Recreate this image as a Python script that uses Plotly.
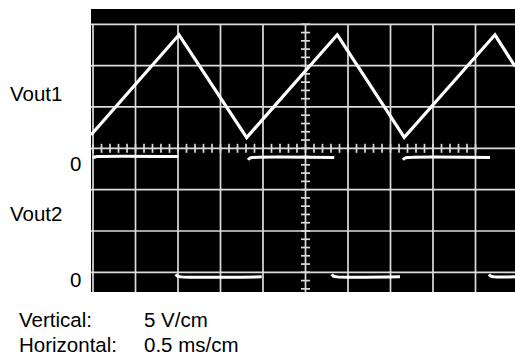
import numpy as np
import plotly.graph_objects as go

# ---- data (x in ms, y in screen volts: 5 V/div, 0 = screen centre) ----
VOLTS_PER_DIV = 5
MS_PER_DIV = 0.5

# Vout1 triangle wave vertices
tri_t = [-0.0235, 1.012, 1.808, 2.874, 3.662, 4.729, 4.965]
tri_v = [1.63, 13.73, 1.30, 13.73, 1.33, 13.73, 9.90]

# Vout2 square wave: segments (start, end, level, level at hooked start)
sq_start = [0.0, 0.973, 1.824, 2.808, 3.647, 4.659]
sq_end = [1.004, 1.985, 2.839, 3.612, 4.671, 4.965]
sq_level = [-0.99, -15.55, -1.11, -15.55, -1.11, -15.55]
sq_hook = [-1.2, -15.25, -1.40, -15.25, -1.40, -15.25]

# grid divisions
grid_x = [0, 0.5, 1.0, 1.5, 2.0, 2.5, 3.0, 3.5, 4.0, 4.5]
grid_y = [-15, -10, -5, 0, 5, 10, 15]
centre_t = 2.5
centre_v = 0

X_RANGE = [-0.0235, 4.9647]
Y_RANGE = [-17.38, 16.85]

labels = ["Vout1", "0", "Vout2", "0"]
info_names = ["Vertical:", "Horizontal:"]
info_values = ["5 V/cm", "0.5 ms/cm"]

fig = go.Figure()

GRID = "#dcdcdc"

# vertical grid lines
gx, gy = [], []
for x in grid_x:
    gx += [x, x, None]
    gy += [Y_RANGE[0], grid_y[-1], None]
fig.add_trace(go.Scatter(x=gx, y=gy, mode="lines", line=dict(color=GRID, width=1.7),
                         hoverinfo="skip", showlegend=False))
# horizontal grid lines
hx, hy = [], []
for y in grid_y:
    hx += [X_RANGE[0], X_RANGE[1], None]
    hy += [y, y, None]
fig.add_trace(go.Scatter(x=hx, y=hy, mode="lines", line=dict(color=GRID, width=1.7),
                         hoverinfo="skip", showlegend=False))

# minor ticks on centre lines
tick_half_v = 4.5 / 41.33 * VOLTS_PER_DIV
tick_half_t = 4.5 / 85.0
tx, ty = [], []
for t in np.round(np.arange(0, 4.5001, MS_PER_DIV / 5), 4):
    tx += [t, t, None]
    ty += [centre_v - tick_half_v, centre_v + tick_half_v, None]
for v in np.round(np.arange(-17, 15.001, VOLTS_PER_DIV / 5), 4):
    tx += [centre_t - tick_half_t, centre_t + tick_half_t, None]
    ty += [v, v, None]
fig.add_trace(go.Scatter(x=tx, y=ty, mode="lines", line=dict(color=GRID, width=1.7),
                         hoverinfo="skip", showlegend=False))

# Vout1
fig.add_trace(go.Scatter(x=tri_t, y=tri_v, mode="lines", line=dict(color="white", width=3.2),
                         hoverinfo="skip", showlegend=False))

# Vout2 segments
sx, sy = [], []
for s, e, lv, hk in zip(sq_start, sq_end, sq_level, sq_hook):
    sx += [s, s + 0.02, s + 0.06, e, None]
    sy += [hk, lv + (hk - lv) * 0.3, lv, lv, None]
fig.add_trace(go.Scatter(x=sx, y=sy, mode="lines", line=dict(color="white", width=3, shape="spline"),
                         hoverinfo="skip", showlegend=False))

FONT = dict(family="Liberation Sans, Arial, sans-serif", size=20.5, color="black")
PLOT_L, PLOT_W, PLOT_B, PLOT_H = 91, 424, 292, 283
px = lambda p: (p - PLOT_L) / PLOT_W
py = lambda p: (PLOT_B - p) / PLOT_H

ann = [
    dict(text=labels[0], x=px(8), y=py(93), xanchor="left"),
    dict(text=labels[1], x=px(83), y=py(163), xanchor="right"),
    dict(text=labels[2], x=px(8), y=py(213), xanchor="left"),
    dict(text=labels[3], x=px(83), y=py(279), xanchor="right"),
]
for name, val, yy in zip(info_names, info_values, [319, 344]):
    ann.append(dict(text=name, x=px(17), y=py(yy), xanchor="left"))
    ann.append(dict(text=val, x=px(142), y=py(yy), xanchor="left"))
for a in ann:
    a.update(xref="paper", yref="paper", showarrow=False, yanchor="middle", font=FONT)

fig.update_layout(
    width=515, height=356,
    margin=dict(l=91, r=0, t=9, b=64),
    paper_bgcolor="white", plot_bgcolor="black",
    xaxis=dict(range=X_RANGE, visible=False, fixedrange=True),
    yaxis=dict(range=Y_RANGE, visible=False, fixedrange=True),
    annotations=ann,
)
fig.write_html("out.html", config={"displayModeBar": False},
               post_script="document.body.style.margin='0';document.body.style.overflow='hidden';")
